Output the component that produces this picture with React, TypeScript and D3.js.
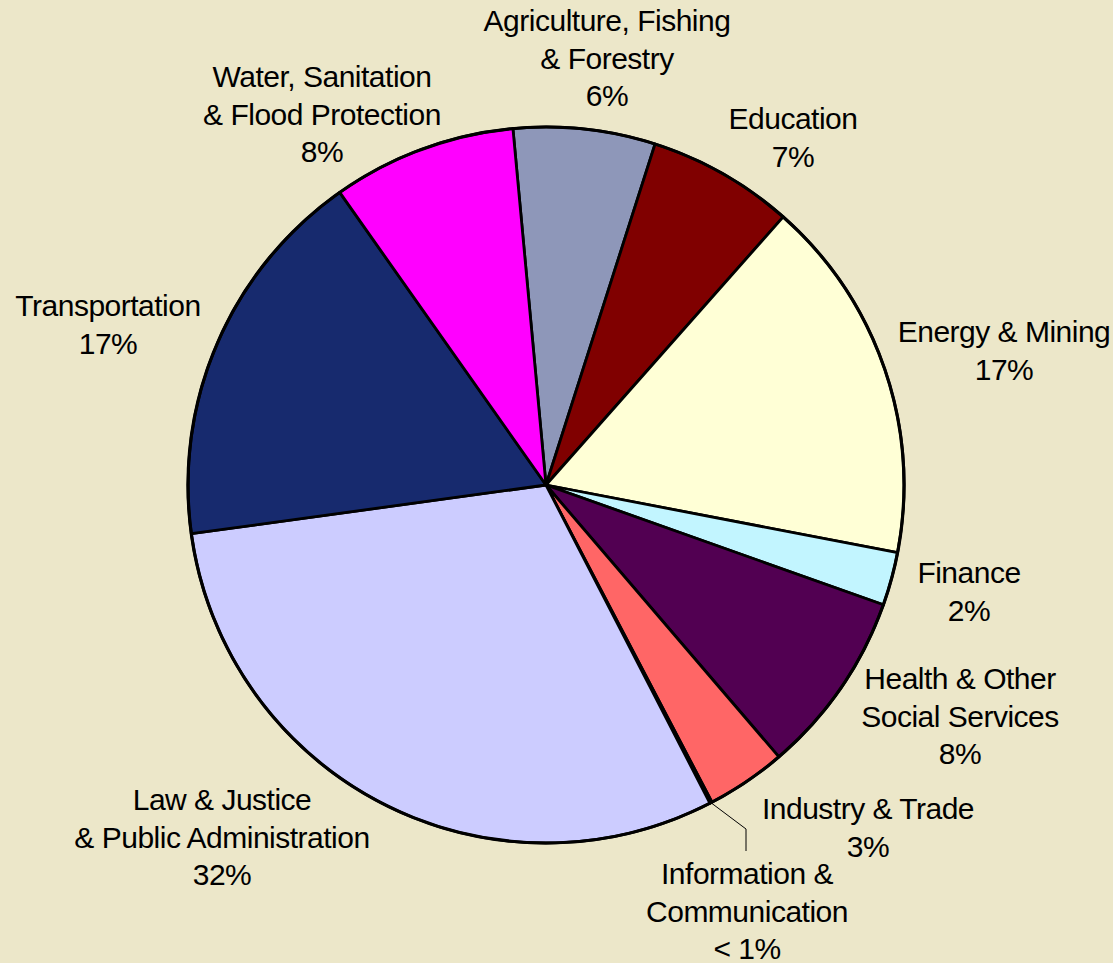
import React from "react";
import * as d3 from "d3";

// ---- data ----
const sectorNames = [
  "Agriculture, Fishing & Forestry",
  "Education",
  "Energy & Mining",
  "Finance",
  "Health & Other Social Services",
  "Industry & Trade",
  "Information & Communication",
  "Law & Justice & Public Administration",
  "Transportation",
  "Water, Sanitation & Flood Protection",
];
const sectorShares = [6.4, 6.6, 16.5, 2.4, 8.3, 3.6, 0.1, 30.4, 17.4, 8.3];
const shareLabels = ["6%", "7%", "17%", "2%", "8%", "3%", "< 1%", "32%", "17%", "8%"];
const labelLines = [
  ["Agriculture, Fishing", "& Forestry"],
  ["Education"],
  ["Energy & Mining"],
  ["Finance"],
  ["Health & Other", "Social Services"],
  ["Industry & Trade"],
  ["Information &", "Communication"],
  ["Law & Justice", "& Public Administration"],
  ["Transportation"],
  ["Water, Sanitation", "& Flood Protection"],
];
const sectorColors = [
  "#8E97B9",
  "#800000",
  "#FFFFD6",
  "#C2F5FF",
  "#520052",
  "#FF6666",
  "#CCCCFF",
  "#CCCCFF",
  "#172A6E",
  "#FF00FF",
];

// ---- layout ----
const W = 1113;
const H = 963;
const CX = 546;
const CY = 485;
const R = 358;
const START_DEG = -5.3;
const LINE_H = 37.5;
// label anchor: center x and first baseline y
const labelAnchors: [number, number][] = [
  [607, 31],
  [793, 129],
  [1004, 342],
  [969, 583],
  [960, 689],
  [868, 819],
  [747, 884],
  [222, 810],
  [108, 316],
  [322, 87],
];
const leaderElbow: [number, number] = [746, 829];
const leaderEnd: [number, number] = [746, 851];

export default function App() {
  const start = (START_DEG * Math.PI) / 180;
  const pie = d3
    .pie<number>()
    .sort(null)
    .value((d) => d)
    .startAngle(start)
    .endAngle(start + 2 * Math.PI);
  const arcs = pie(sectorShares);
  const arc = d3.arc<d3.PieArcDatum<number>>().innerRadius(0).outerRadius(R);

  const infoIdx = 6;
  const ia = arcs[infoIdx];
  const mid = (ia.startAngle + ia.endAngle) / 2;
  const lx = CX + R * Math.sin(mid);
  const ly = CY - R * Math.cos(mid);
  const leader = d3.line()([[lx, ly], leaderElbow, leaderEnd]) || "";

  return (
    <svg
      width={W}
      height={H}
      style={{ position: "absolute", left: 0, top: 0, display: "block" }}
      fontFamily="'Liberation Sans', Arial, sans-serif"
    >
      <rect x={0} y={0} width={W} height={H} fill="#ECE7C9" />
      <g transform={`translate(${CX},${CY})`}>
        {arcs.map((a, i) => (
          <path
            key={sectorNames[i]}
            d={arc(a) || ""}
            fill={sectorColors[i]}
            stroke="#000"
            strokeWidth={2.8}
            strokeLinejoin="round"
          />
        ))}
        <circle r={R} fill="none" stroke="#000" strokeWidth={3.2} />
      </g>
      <path d={leader} fill="none" stroke="#000" strokeWidth={1} />
      {labelLines.map((lines, i) => {
        const [x, y] = labelAnchors[i];
        const all = [...lines, shareLabels[i]];
        return (
          <text
            key={sectorNames[i]}
            x={x}
            y={y}
            textAnchor="middle"
            fontSize={30}
            letterSpacing={-0.5}
            fill="#000"
          >
            {all.map((t, j) => (
              <tspan key={j} x={x} y={y + j * LINE_H}>
                {t}
              </tspan>
            ))}
          </text>
        );
      })}
    </svg>
  );
}
